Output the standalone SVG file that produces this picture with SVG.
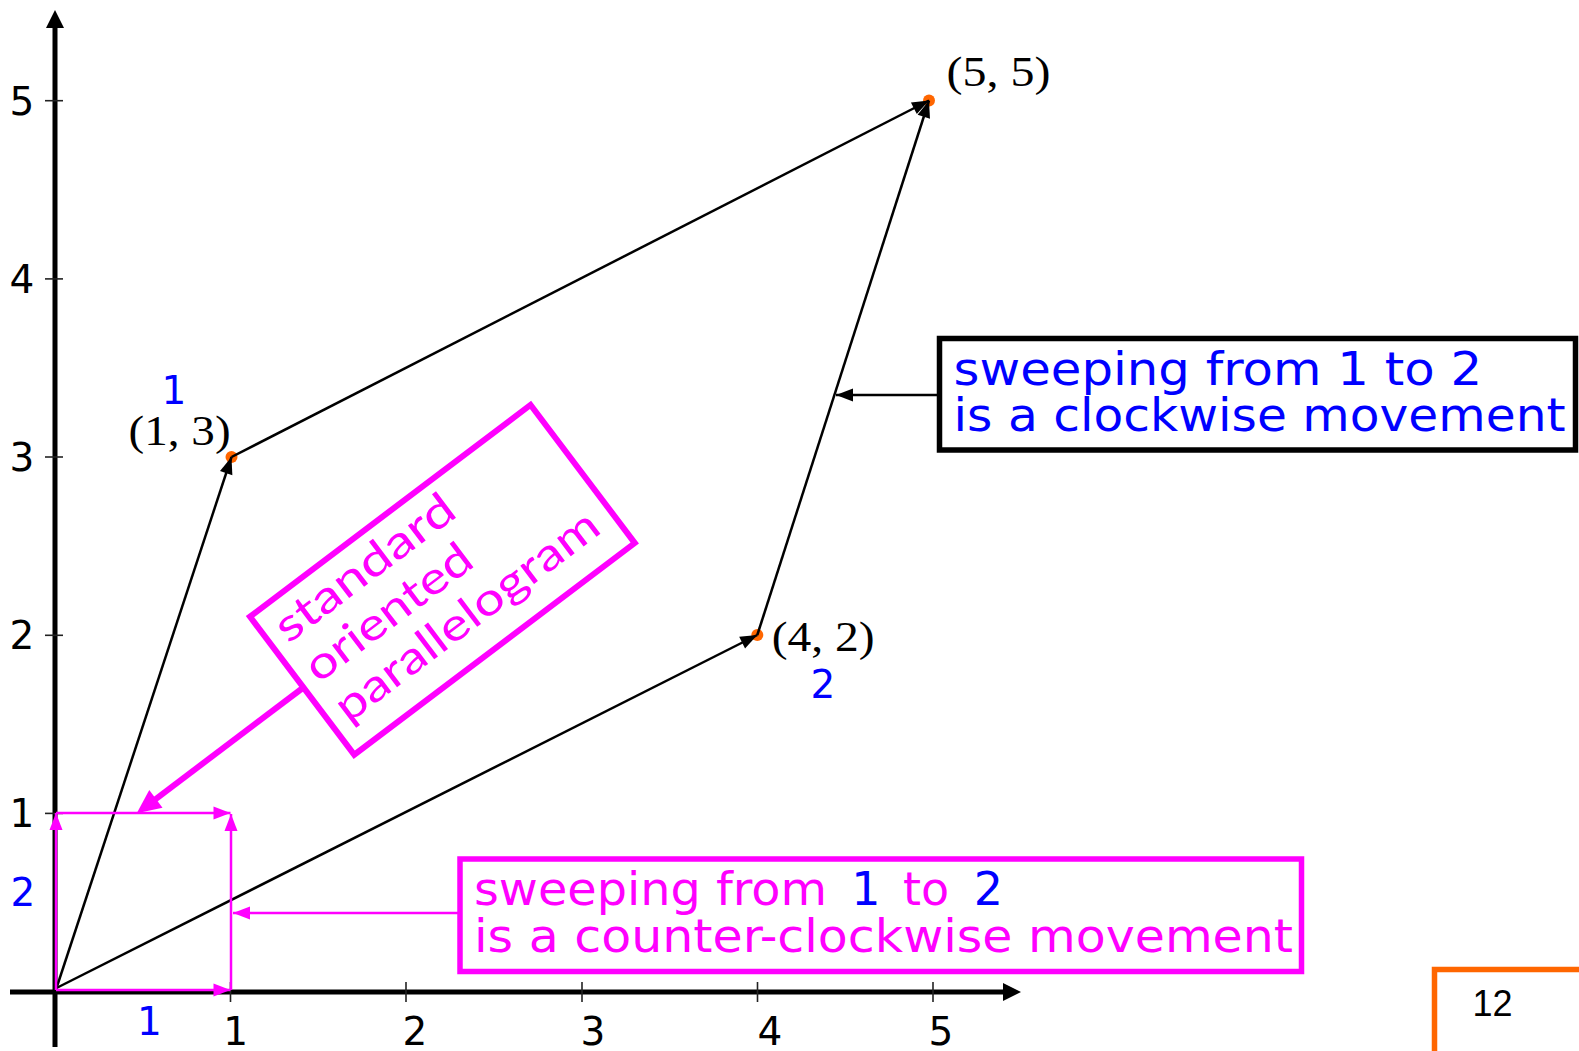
<svg xmlns="http://www.w3.org/2000/svg" width="1579" height="1051" viewBox="0 0 1579 1051">
<style>
.axis{stroke:#000;stroke-width:5;fill:none}
.tick{stroke:#222;stroke-width:1.6}
.lbl{font-family:"DejaVu Sans",sans-serif;font-size:39px;fill:#000;text-anchor:middle}
.blue{font-family:"DejaVu Sans",sans-serif;font-size:39px;fill:#0000ff;text-anchor:middle}
.pt{font-family:"Liberation Serif",serif;font-size:43px;fill:#000}
.edge{stroke:#000;stroke-width:2.5;fill:none}
.mag{stroke:#ff00ff;stroke-width:2.5;fill:none}
.big{font-family:"DejaVu Sans",sans-serif;font-size:46px}
.dot{fill:#ff6600}
</style>
<defs>
<marker id="ab" markerUnits="userSpaceOnUse" markerWidth="20" markerHeight="14" refX="0" refY="0" orient="auto" overflow="visible"><path d="M-17,-6.5 L0,0 L-17,6.5 z" fill="#000"/></marker>
<marker id="am" markerUnits="userSpaceOnUse" markerWidth="20" markerHeight="14" refX="0" refY="0" orient="auto" overflow="visible"><path d="M-17,-6.5 L0,0 L-17,6.5 z" fill="#ff00ff"/></marker>
<marker id="amb" markerUnits="userSpaceOnUse" markerWidth="30" markerHeight="24" refX="0" refY="0" orient="auto" overflow="visible"><path d="M-4,-11 L20,0 L-4,11 z" fill="#ff00ff"/></marker>
<marker id="ax" markerUnits="userSpaceOnUse" markerWidth="24" markerHeight="20" refX="0" refY="0" orient="auto" overflow="visible"><path d="M-4,-9 L14,0 L-4,9 z" fill="#000"/></marker>
</defs>
<rect width="1579" height="1051" fill="#fff"/>

<g id="axes">
<line class="axis" x1="55" y1="1047" x2="55" y2="24" marker-end="url(#ax)"/>
<line class="axis" x1="10" y1="992" x2="1007" y2="992" marker-end="url(#ax)"/>
<line class="tick" x1="45" y1="100.7" x2="63" y2="100.7"/>
<line class="tick" x1="45" y1="278.9" x2="63" y2="278.9"/>
<line class="tick" x1="45" y1="457" x2="63" y2="457"/>
<line class="tick" x1="45" y1="635.3" x2="63" y2="635.3"/>
<line class="tick" x1="45" y1="813.4" x2="63" y2="813.4"/>
<line class="tick" x1="230.5" y1="982" x2="230.5" y2="1002"/>
<line class="tick" x1="406" y1="982" x2="406" y2="1002"/>
<line class="tick" x1="582" y1="982" x2="582" y2="1002"/>
<line class="tick" x1="757.5" y1="982" x2="757.5" y2="1002"/>
<line class="tick" x1="933" y1="982" x2="933" y2="1002"/>
<text class="lbl" x="22" y="114.7">5</text>
<text class="lbl" x="22" y="292.9">4</text>
<text class="lbl" x="22" y="471">3</text>
<text class="lbl" x="22" y="649.3">2</text>
<text class="lbl" x="22" y="827.4">1</text>
<text class="lbl" x="235.7" y="1045">1</text>
<text class="lbl" x="415" y="1045">2</text>
<text class="lbl" x="593" y="1045">3</text>
<text class="lbl" x="770" y="1045">4</text>
<text class="lbl" x="941" y="1045">5</text>
</g>

<g id="vertices">
<circle class="dot" cx="231.5" cy="457" r="6"/>
<circle class="dot" cx="929" cy="100.5" r="6"/>
<circle class="dot" cx="757.3" cy="635" r="6"/>
<text class="pt" x="128.6" y="445" textLength="102" lengthAdjust="spacingAndGlyphs">(1, 3)</text>
<text class="pt" x="946.6" y="86" textLength="104" lengthAdjust="spacingAndGlyphs">(5, 5)</text>
<text class="pt" x="771.7" y="651" textLength="103" lengthAdjust="spacingAndGlyphs">(4, 2)</text>
<text class="blue" x="174" y="404">1</text>
<text class="blue" x="823" y="698">2</text>
<text class="blue" x="23" y="906">2</text>
<text class="blue" x="149.5" y="1035">1</text>
</g>

<g id="connectors">
<line class="edge" x1="56.5" y1="988" x2="231.5" y2="457" marker-end="url(#ab)"/>
<line class="edge" x1="231.5" y1="457" x2="929" y2="100.5" marker-end="url(#ab)"/>
<line class="edge" x1="56.5" y1="988" x2="757.3" y2="635" marker-end="url(#ab)"/>
<line class="edge" x1="757.3" y1="635" x2="929" y2="100.5" marker-end="url(#ab)"/>
<line class="mag" x1="56" y1="990" x2="230.5" y2="990" marker-end="url(#am)"/>
<line class="mag" x1="56" y1="990" x2="56" y2="813" marker-end="url(#am)"/>
<line class="mag" x1="56" y1="813" x2="230.5" y2="813" marker-end="url(#am)"/>
<line class="mag" x1="231" y1="990" x2="231" y2="814" marker-end="url(#am)"/>
<line class="mag" x1="458" y1="913" x2="233" y2="913" marker-end="url(#am)"/>
<line class="edge" x1="938" y1="395" x2="836" y2="395" marker-end="url(#ab)"/>
<line stroke="#ff00ff" stroke-width="6" x1="303.4" y1="687.5" x2="152.7" y2="801.3" marker-end="url(#amb)"/>
</g>

<g id="note-standard" transform="translate(250,616.7) rotate(-37.05)">
<rect x="0" y="0" width="351.5" height="173" fill="#fff" stroke="#ff00ff" stroke-width="6"/>
<g font-family="Lato, sans-serif" font-size="45" fill="#ff00ff">
<text x="14" y="45" textLength="214" lengthAdjust="spacingAndGlyphs">standard</text>
<text x="14" y="95" textLength="198" lengthAdjust="spacingAndGlyphs">oriented</text>
<text x="14" y="145" textLength="319" lengthAdjust="spacingAndGlyphs">parallelogram</text>
</g>
</g>

<g id="note-clockwise">
<rect x="939.5" y="338.5" width="636" height="111.5" fill="#fff" stroke="#000" stroke-width="5.5"/>
<text class="big" x="953.6" y="384.5" fill="#0000ff" textLength="528.5" lengthAdjust="spacingAndGlyphs">sweeping from 1 to 2</text>
<text class="big" x="953.6" y="431" fill="#0000ff" textLength="612" lengthAdjust="spacingAndGlyphs">is a clockwise movement</text>
</g>

<g id="note-counterclockwise">
<rect x="460" y="859" width="841.5" height="112.5" fill="#fff" stroke="#ff00ff" stroke-width="5.5"/>
<text class="big" x="474" y="905" fill="#ff00ff" textLength="353" lengthAdjust="spacingAndGlyphs">sweeping from</text>
<text class="big" x="866" y="905" fill="#0000ff" text-anchor="middle">1</text>
<text class="big" x="926" y="905" fill="#ff00ff" text-anchor="middle">to</text>
<text class="big" x="988.5" y="905" fill="#0000ff" text-anchor="middle">2</text>
<text class="big" x="474" y="951.5" fill="#ff00ff" textLength="819" lengthAdjust="spacingAndGlyphs">is a counter-clockwise movement</text>
</g>

<g id="page-number">
<path d="M1434.5,1051 V969.5 H1579" fill="none" stroke="#ff6600" stroke-width="5.5"/>
<text x="1472.5" y="1016" font-family="Liberation Sans, sans-serif" font-size="36" fill="#000">12</text>
</g>
</svg>
